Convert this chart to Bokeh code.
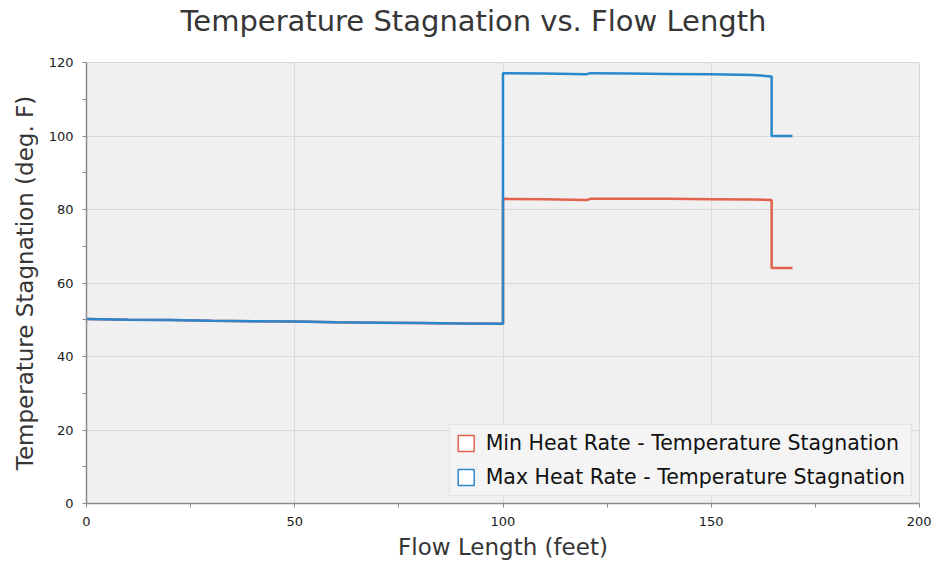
import numpy as np
from bokeh.plotting import figure
from bokeh.models import Legend, LegendItem, Range1d, FixedTicker, Title
from bokeh.embed import file_html
from bokeh.resources import INLINE

# ---- data ----
dist_min = [0, 10, 20, 30, 40, 50, 60, 70, 80, 90, 100,
            100, 110, 120, 121, 130, 140, 150, 160, 164.5,
            164.5, 169.5]
temp_min = [50.2, 50.0, 49.9, 49.7, 49.6, 49.5, 49.3, 49.2, 49.1, 49.0, 48.9,
            82.9, 82.8, 82.6, 82.9, 82.9, 82.9, 82.8, 82.7, 82.6,
            64.1, 64.1]

dist_max = [0, 10, 20, 30, 40, 50, 60, 70, 80, 90, 100,
            100, 110, 120, 121, 130, 140, 150, 160, 164.5,
            164.5, 169.5]
temp_max = [50.2, 50.0, 49.9, 49.7, 49.6, 49.5, 49.3, 49.2, 49.1, 49.0, 48.9,
            117.1, 117.0, 116.8, 117.1, 117.0, 116.9, 116.8, 116.6, 116.2,
            100.0, 100.0]

x_ticks = [0, 50, 100, 150, 200]
x_minor = [25, 75, 125, 175]
y_ticks = [0, 20, 40, 60, 80, 100, 120]
y_minor = [10, 30, 50, 70, 90, 110]

chart_title = "Temperature Stagnation vs. Flow Length"
series_names = ["Min Heat Rate - Temperature Stagnation",
                "Max Heat Rate - Temperature Stagnation"]
RED = "#e2624e"
BLUE = "#2b87cc"
FONT = "DejaVu Sans"

p = figure(width=931, height=564, output_backend="svg", toolbar_location=None,
           x_range=Range1d(0, 200), y_range=Range1d(0, 120),
           min_border_left=86, min_border_right=12, min_border_top=62,
           min_border_bottom=61)

# spacer panel next to the frame, real title above it
spacer = Title(text=" ", text_font=FONT, text_font_size="12px", standoff=4)
p.add_layout(spacer, "above")
main_title = Title(text=chart_title, text_font=FONT, text_font_size="29px",
                   text_font_style="normal", text_color="#363636",
                   align="left", offset=94, vertical_align="top", standoff=6)
p.add_layout(main_title, "above")

p.background_fill_color = "#f0f0f0"
p.border_fill_color = "white"
p.outline_line_color = "#d6d6d6"

r_min = p.line(dist_min, temp_min, line_color=RED, line_width=2.5)
r_max = p.line(dist_max, temp_max, line_color=BLUE, line_width=2.5)

# legend boxes (area glyphs that draw nothing in the plot, only used by the legend)
nan = [np.nan]
box_min = p.quad(left=nan, right=nan, top=nan, bottom=nan, fill_color="white",
                 line_color=RED, line_width=1.5)
box_max = p.quad(left=nan, right=nan, top=nan, bottom=nan, fill_color="white",
                 line_color=BLUE, line_width=1.5)

for ax in (p.xaxis[0], p.yaxis[0]):
    ax.axis_line_color = "#8a8a8a"
    ax.axis_line_width = 1.5
    ax.major_tick_line_color = "#8a8a8a"
    ax.minor_tick_line_color = "#8a8a8a"
    ax.major_tick_in = 0
    ax.major_tick_out = 4
    ax.minor_tick_in = 0
    ax.minor_tick_out = 4
    ax.major_label_text_font = FONT
    ax.major_label_text_font_size = "13px"
    ax.major_label_text_color = "#1a1a1a"
    ax.major_label_standoff = 9
    ax.axis_label_text_font = FONT
    ax.axis_label_text_font_size = "23px"
    ax.axis_label_text_font_style = "normal"
    ax.axis_label_text_color = "#363636"

p.xaxis.axis_label_standoff = 5
p.yaxis.axis_label_standoff = 8

p.xaxis.ticker = FixedTicker(ticks=x_ticks, minor_ticks=x_minor)
p.yaxis.ticker = FixedTicker(ticks=y_ticks, minor_ticks=y_minor)
p.xaxis.axis_label = "Flow Length (feet)"
p.yaxis.axis_label = "Temperature Stagnation (deg. F)"

p.grid.grid_line_color = "#dadada"
p.grid.grid_line_width = 1

legend = Legend(items=[LegendItem(label=series_names[0], renderers=[box_min]),
                       LegendItem(label=series_names[1], renderers=[box_max])],
                location="bottom_right")
legend.label_text_font = FONT
legend.label_text_font_size = "20.5px"
legend.label_text_color = "#111111"
legend.glyph_width = 20
legend.glyph_height = 20
legend.label_standoff = 10
legend.padding = 6
legend.spacing = 10
legend.margin = 7
legend.background_fill_color = "#f4f4f4"
legend.background_fill_alpha = 1
legend.border_line_color = "#d0d0d0"
p.add_layout(legend)

open("out.html", "w").write(file_html(p, INLINE))
